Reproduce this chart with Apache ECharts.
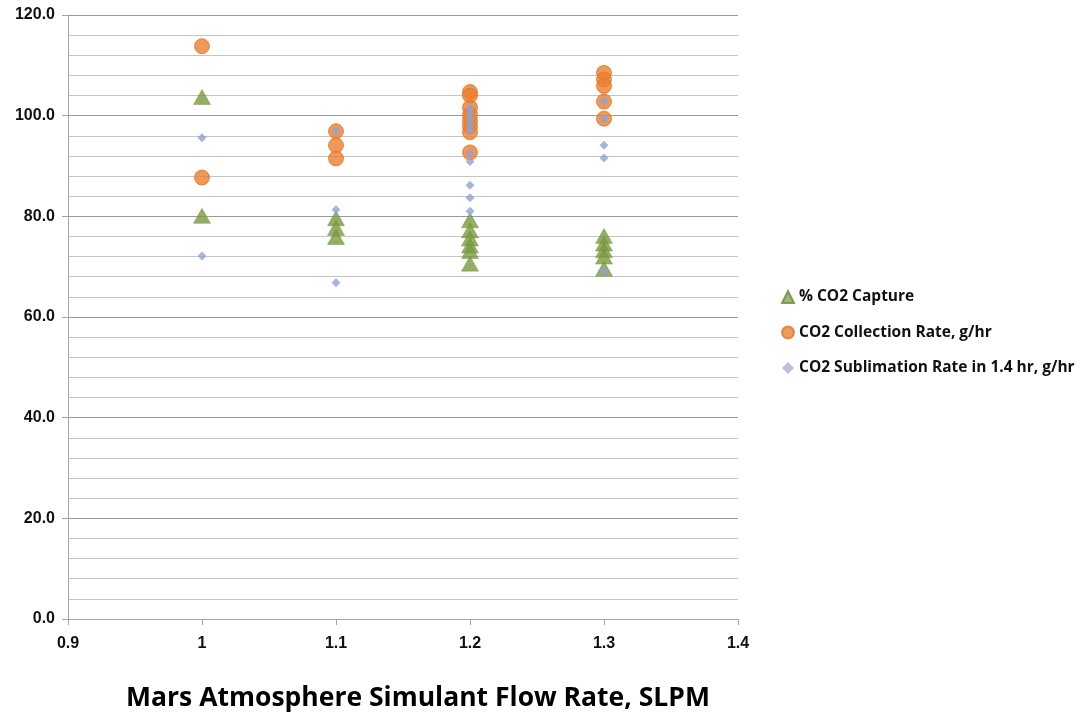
<!DOCTYPE html>
<html><head><meta charset="utf-8">
<script src="https://cdn.jsdelivr.net/npm/echarts@6/dist/echarts.min.js"></script>
<style>html,body{margin:0;padding:0;background:#fff}#c{width:1082px;height:715px}</style>
</head><body><div id="c"></div>
<script>
const captureX = [1.0, 1.0, 1.1, 1.1, 1.1, 1.2, 1.2, 1.2, 1.2, 1.2, 1.2, 1.3, 1.3, 1.3, 1.3, 1.3];
const captureY = [103.7, 80.1, 79.6, 77.7, 75.9, 79.2, 77.2, 75.6, 74.2, 73.1, 70.6, 76.1, 74.6, 73.3, 72.0, 69.6];
const collectX = [1.0, 1.0, 1.1, 1.1, 1.1, 1.2, 1.2, 1.2, 1.2, 1.2, 1.2, 1.2, 1.2, 1.3, 1.3, 1.3, 1.3, 1.3];
const collectY = [113.8, 87.7, 96.9, 94.1, 91.5, 104.7, 101.6, 100.2, 99.0, 97.9, 96.7, 92.7, 104.0, 108.5, 107.2, 105.9, 102.8, 99.4];
const sublimX = [1.0, 1.0, 1.1, 1.1, 1.1, 1.2, 1.2, 1.2, 1.2, 1.2, 1.2, 1.2, 1.2, 1.2, 1.2, 1.3, 1.3, 1.3, 1.3, 1.3];
const sublimY = [95.6, 72.1, 97.0, 81.3, 66.8, 101.5, 100.3, 99.2, 98.0, 97.0, 90.9, 86.2, 83.7, 81.0, 92.5, 102.9, 99.4, 94.1, 91.6, 69.1];
const seriesNames = ['% CO2 Capture', 'CO2 Collection Rate, g/hr', 'CO2 Sublimation Rate in 1.4 hr, g/hr'];
const xTitle = 'Mars Atmosphere Simulant Flow Rate, SLPM';

const pairs = (xs, ys) => xs.map((x, i) => [x, ys[i]]);
const chart = echarts.init(document.getElementById('c'));
chart.setOption({
  animation: false,
  backgroundColor: '#fff',
  grid: {left: 68, right: 344, top: 15, bottom: 96, outerBoundsMode: 'none', containLabel: false},
  legend: {
    orient: 'vertical', left: 776, top: 284, itemGap: 19.5,
    itemWidth: 12, itemHeight: 12,
    textStyle: {fontFamily: 'Open Sans', fontWeight: 'bold', fontSize: 15.5, color: '#111'},
    data: [
      {name: seriesNames[0], icon: 'triangle', itemStyle: {color: '#8aa05a'}},
      {name: seriesNames[1], icon: 'circle', itemStyle: {color: '#e8833a'}},
      {name: seriesNames[2], icon: 'diamond', itemStyle: {color: '#a9b2cf'}}
    ]
  },
  xAxis: {
    type: 'value', min: 0.9, max: 1.4, interval: 0.1,
    name: xTitle, nameLocation: 'middle', nameGap: 66,
    nameTextStyle: {fontFamily: 'Open Sans', fontWeight: 'bold', fontSize: 26.5, color: '#000', padding: [0, 0, 0, 30]},
    axisLine: {show: true, lineStyle: {color: '#a6a6a6', width: 1}},
    axisTick: {show: true, length: 6, lineStyle: {color: '#a6a6a6'}},
    splitLine: {show: false},
    axisLabel: {fontFamily: 'Liberation Sans', fontWeight: 'bold', fontSize: 16, color: '#111', margin: 17,
      formatter: v => String(Math.round(v * 10) / 10)}
  },
  yAxis: {
    type: 'value', min: 0, max: 120, interval: 20,
    axisLine: {show: true, lineStyle: {color: '#a6a6a6', width: 1}},
    axisTick: {show: true, length: 6, lineStyle: {color: '#a6a6a6'}},
    splitLine: {show: true, lineStyle: {color: '#9a9a9a', width: 1}},
    minorTick: {show: false, splitNumber: 5},
    minorSplitLine: {show: true, lineStyle: {color: '#c4c4c4', width: 1}},
    axisLabel: {fontFamily: 'Liberation Sans', fontWeight: 'bold', fontSize: 16, color: '#111', margin: 13,
      formatter: v => v.toFixed(1)}
  },
  series: [
    {name: seriesNames[0], type: 'scatter', symbol: 'triangle', symbolSize: [17, 15],
      itemStyle: {color: '#7b9a3e', borderColor: '#6b8a34', borderWidth: 0.5}, data: pairs(captureX, captureY)},
    {name: seriesNames[1], type: 'scatter', symbol: 'circle', symbolSize: 15,
      itemStyle: {color: '#ea7e2f', borderColor: '#e0762a', borderWidth: 1}, data: pairs(collectX, collectY)},
    {name: seriesNames[2], type: 'scatter', symbol: 'diamond', symbolSize: 9,
      itemStyle: {color: '#8fa3d6'}, data: pairs(sublimX, sublimY)}
  ]
});
</script></body></html>
